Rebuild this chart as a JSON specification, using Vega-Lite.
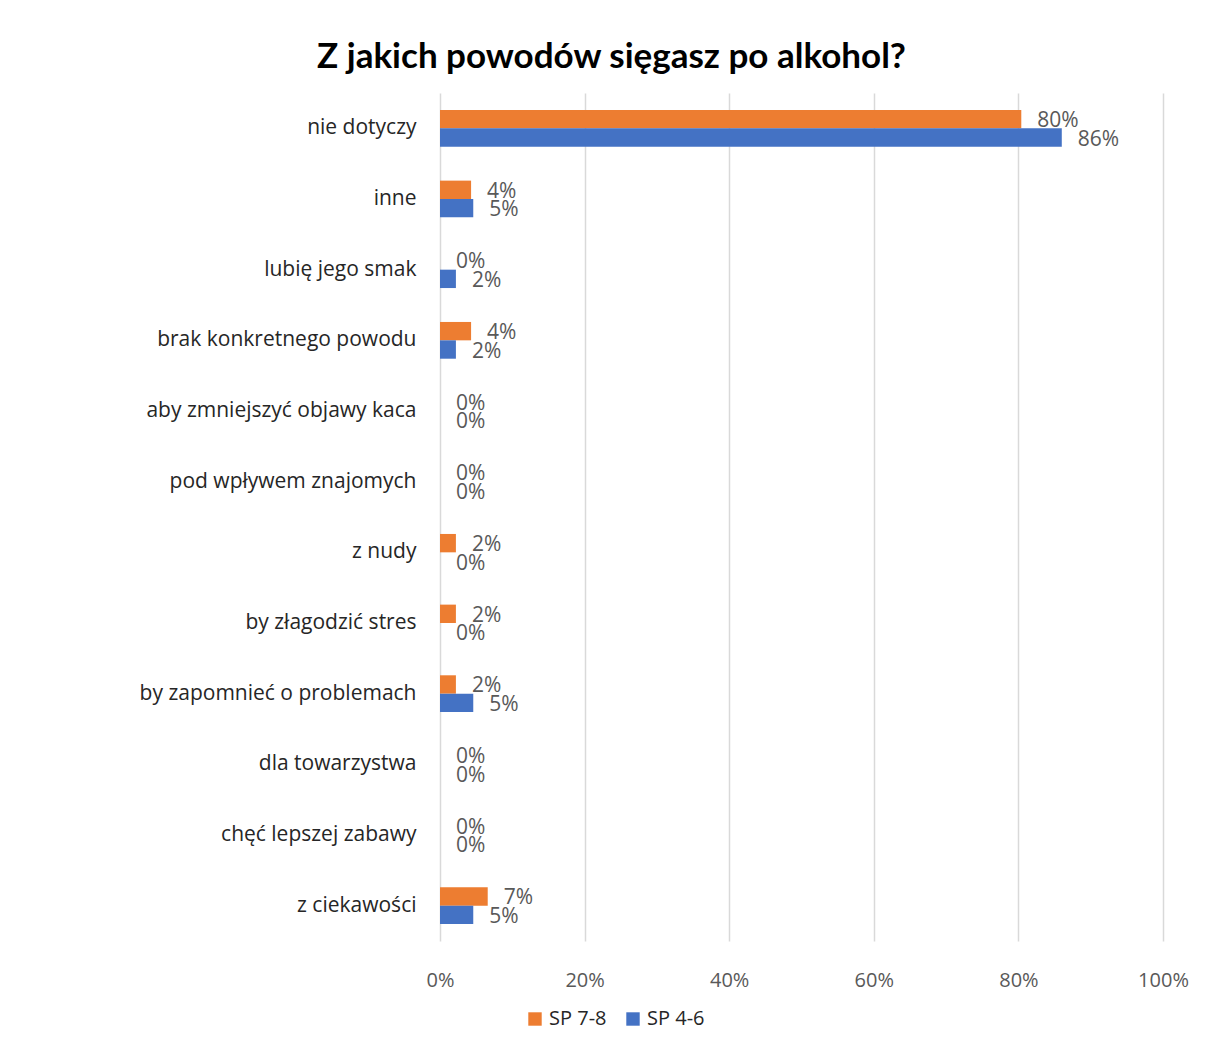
{
  "$schema": "https://vega.github.io/schema/vega-lite/v6.json",
  "width": 723,
  "height": 848,
  "autosize": {"type": "none"},
  "padding": {"left": 440, "top": 93, "right": 43, "bottom": 107},
  "background": "white",
  "title": {
    "text": "Z jakich powodów sięgasz po alkohol?",
    "font": "Lato",
    "fontSize": 35,
    "fontWeight": "bold",
    "color": "#000000",
    "anchor": "middle",
    "dx": -190,
    "offset": 18
  },
  "data": {
    "values": [
      {"cat": "nie dotyczy", "group": "SP 7-8", "value": 0.804},
      {"cat": "nie dotyczy", "group": "SP 4-6", "value": 0.86},
      {"cat": "inne", "group": "SP 7-8", "value": 0.043},
      {"cat": "inne", "group": "SP 4-6", "value": 0.046},
      {"cat": "lubię jego smak", "group": "SP 7-8", "value": 0},
      {"cat": "lubię jego smak", "group": "SP 4-6", "value": 0.022},
      {"cat": "brak konkretnego powodu", "group": "SP 7-8", "value": 0.043},
      {"cat": "brak konkretnego powodu", "group": "SP 4-6", "value": 0.022},
      {"cat": "aby zmniejszyć objawy kaca", "group": "SP 7-8", "value": 0},
      {"cat": "aby zmniejszyć objawy kaca", "group": "SP 4-6", "value": 0},
      {"cat": "pod wpływem znajomych", "group": "SP 7-8", "value": 0},
      {"cat": "pod wpływem znajomych", "group": "SP 4-6", "value": 0},
      {"cat": "z nudy", "group": "SP 7-8", "value": 0.022},
      {"cat": "z nudy", "group": "SP 4-6", "value": 0},
      {"cat": "by złagodzić stres", "group": "SP 7-8", "value": 0.022},
      {"cat": "by złagodzić stres", "group": "SP 4-6", "value": 0},
      {"cat": "by zapomnieć o problemach", "group": "SP 7-8", "value": 0.022},
      {"cat": "by zapomnieć o problemach", "group": "SP 4-6", "value": 0.046},
      {"cat": "dla towarzystwa", "group": "SP 7-8", "value": 0},
      {"cat": "dla towarzystwa", "group": "SP 4-6", "value": 0},
      {"cat": "chęć lepszej zabawy", "group": "SP 7-8", "value": 0},
      {"cat": "chęć lepszej zabawy", "group": "SP 4-6", "value": 0},
      {"cat": "z ciekawości", "group": "SP 7-8", "value": 0.066},
      {"cat": "z ciekawości", "group": "SP 4-6", "value": 0.046}
    ]
  },
  "encoding": {
    "y": {
      "field": "cat",
      "type": "nominal",
      "sort": null,
      "scale": {"paddingInner": 0.48, "paddingOuter": 0.24},
      "axis": {
        "title": null,
        "domain": false,
        "ticks": false,
        "labelFont": "Open Sans",
        "labelFontSize": 21,
        "labelColor": "#262626",
        "labelPadding": 24,
        "labelLimit": 400
      }
    },
    "yOffset": {
      "field": "group",
      "type": "nominal",
      "sort": ["SP 7-8", "SP 4-6"]
    },
    "x": {
      "field": "value",
      "type": "quantitative",
      "scale": {"domain": [0, 1]},
      "axis": {
        "title": null,
        "format": ".0%",
        "values": [0, 0.2, 0.4, 0.6, 0.8, 1],
        "grid": true,
        "gridColor": "#d9d9d9",
        "gridWidth": 1.5,
        "domain": false,
        "ticks": false,
        "labelFlush": false,
        "labelFont": "Open Sans",
        "labelFontSize": 20,
        "labelColor": "#595959",
        "labelPadding": 29
      }
    }
  },
  "layer": [
    {
      "mark": {"type": "bar"},
      "encoding": {
        "color": {
          "field": "group",
          "type": "nominal",
          "scale": {"domain": ["SP 7-8", "SP 4-6"], "range": ["#ED7D31", "#4472C4"]},
          "legend": {
            "title": null,
            "orient": "none",
            "legendX": 85,
            "legendY": 916,
            "direction": "horizontal",
            "symbolType": "square",
            "symbolSize": 180,
            "symbolStrokeWidth": 0,
            "labelFont": "Open Sans",
            "labelFontSize": 20,
            "labelColor": "#262626",
            "columnPadding": 16,
            "labelOffset": 4
          }
        }
      }
    },
    {
      "mark": {"type": "text", "align": "left", "baseline": "middle", "dx": 16, "dy": 2, "font": "Open Sans", "fontSize": 21, "color": "#595959"},
      "encoding": {
        "text": {"field": "value", "type": "quantitative", "format": ".0%"}
      }
    }
  ],
  "config": {
    "view": {"stroke": null}
  }
}
